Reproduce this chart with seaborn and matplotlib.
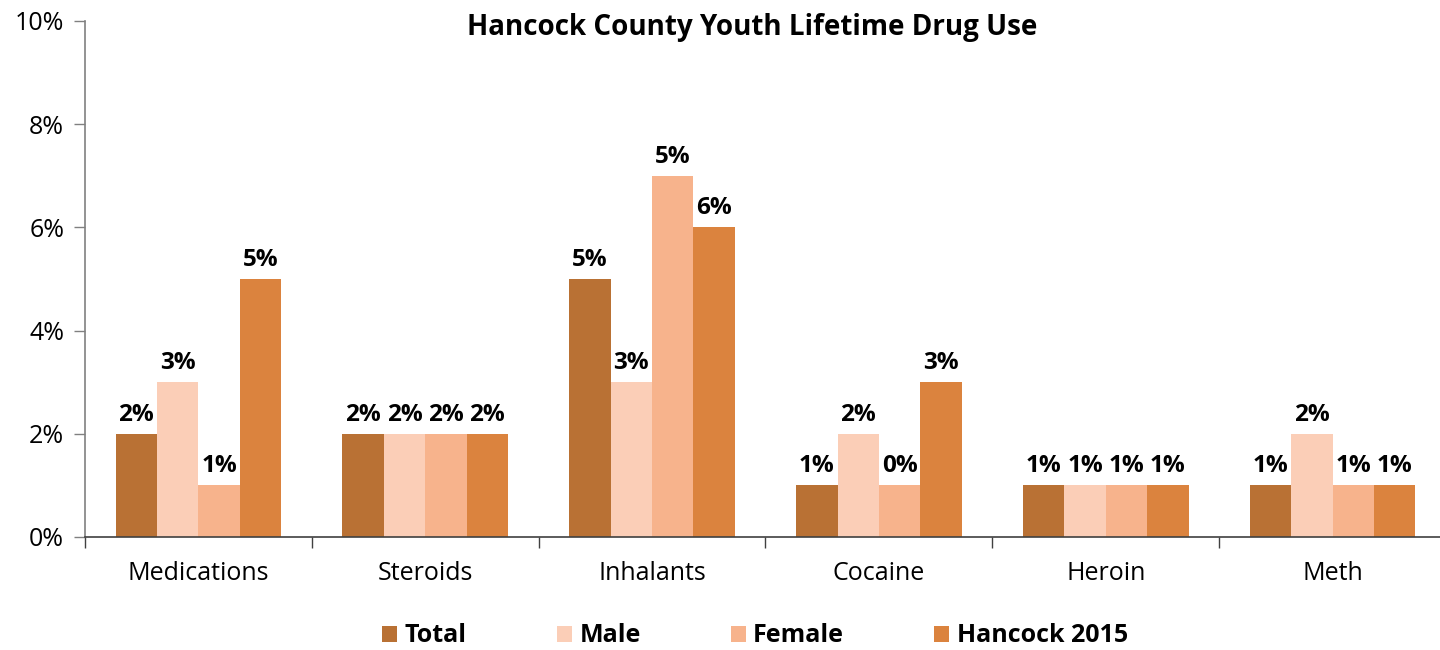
import matplotlib
matplotlib.use("Agg")
import matplotlib.pyplot as plt
import seaborn as sns
import pandas as pd
from matplotlib.ticker import FuncFormatter, FixedLocator

categories = ["Medications", "Steroids", "Inhalants", "Cocaine", "Heroin", "Meth"]
series = ["Total", "Male", "Female", "Hancock 2015"]
total = [2, 2, 5, 1, 1, 1]
male = [3, 2, 3, 2, 1, 2]
female = [1, 2, 7, 1, 1, 1]
hancock = [5, 2, 6, 3, 1, 1]
total_labels = ["2%", "2%", "5%", "1%", "1%", "1%"]
male_labels = ["3%", "2%", "3%", "2%", "1%", "2%"]
female_labels = ["1%", "2%", "5%", "0%", "1%", "1%"]
hancock_labels = ["5%", "2%", "6%", "3%", "1%", "1%"]
colors = ["#B97134", "#FBCEB7", "#F7B38C", "#DB833E"]

values = [total, male, female, hancock]
labels = [total_labels, male_labels, female_labels, hancock_labels]
rows = []
for s, vals in zip(series, values):
    for c, v in zip(categories, vals):
        rows.append({"Category": c, "Series": s, "Value": v})
df = pd.DataFrame(rows)

sns.set_theme(style="white")
plt.rcParams["font.family"] = ["Open Sans", "DejaVu Sans"]
plt.rcParams["text.color"] = "black"

fig = plt.figure(figsize=(14.4, 6.5), dpi=100)
ax = fig.add_axes([85 / 1440, 1 - 537 / 650, (1446 - 85) / 1440, (537 - 21) / 650])

sns.barplot(data=df, x="Category", y="Value", hue="Series", order=categories,
            hue_order=series, palette=colors, width=0.73, saturation=1,
            linewidth=0, ax=ax, legend=True)

for cont, labs in zip(ax.containers, labels):
    ax.bar_label(cont, labels=labs, padding=5, fontsize=17.5, fontweight="bold",
                 color="black")

ax.set_ylim(0, 10)
ax.set_xlim(-0.5, 5.5)
ax.set_yticks([0, 2, 4, 6, 8, 10])
ax.yaxis.set_major_formatter(FuncFormatter(lambda v, p: f"{v:.0f}%"))
ax.set_xlabel("")
ax.set_ylabel("")
ax.tick_params(axis="y", which="both", left=True, length=8, width=1,
               color="#808080", labelsize=18, pad=7, labelcolor="black")
ax.tick_params(axis="x", which="major", bottom=False, labelsize=18, pad=11,
               labelcolor="black")
ax.xaxis.set_minor_locator(FixedLocator([-0.5 + i for i in range(7)]))
ax.tick_params(axis="x", which="minor", bottom=True, length=8, width=1,
               color="#404040")

for side in ["top", "right"]:
    ax.spines[side].set_visible(False)
ax.spines["left"].set_color("#808080")
ax.spines["left"].set_linewidth(1.2)
ax.spines["bottom"].set_color("#404040")
ax.spines["bottom"].set_linewidth(1.2)
ax.grid(False)

handles, lbls = ax.get_legend_handles_labels()
ax.legend_.remove()
fig.legend(handles, lbls, loc="center", bbox_to_anchor=(755 / 1440, 1 - 636 / 650),
           ncol=4, frameon=False, prop={"weight": "bold", "size": 18},
           handlelength=0.6, handleheight=0.6, handletextpad=0.3, columnspacing=3.6)

fig.text(752 / 1440, 1 - 28 / 650, "Hancock County Youth Lifetime Drug Use",
         ha="center", va="center", fontsize=20, fontweight="bold", color="black")

fig.savefig("out.png", dpi=100)
